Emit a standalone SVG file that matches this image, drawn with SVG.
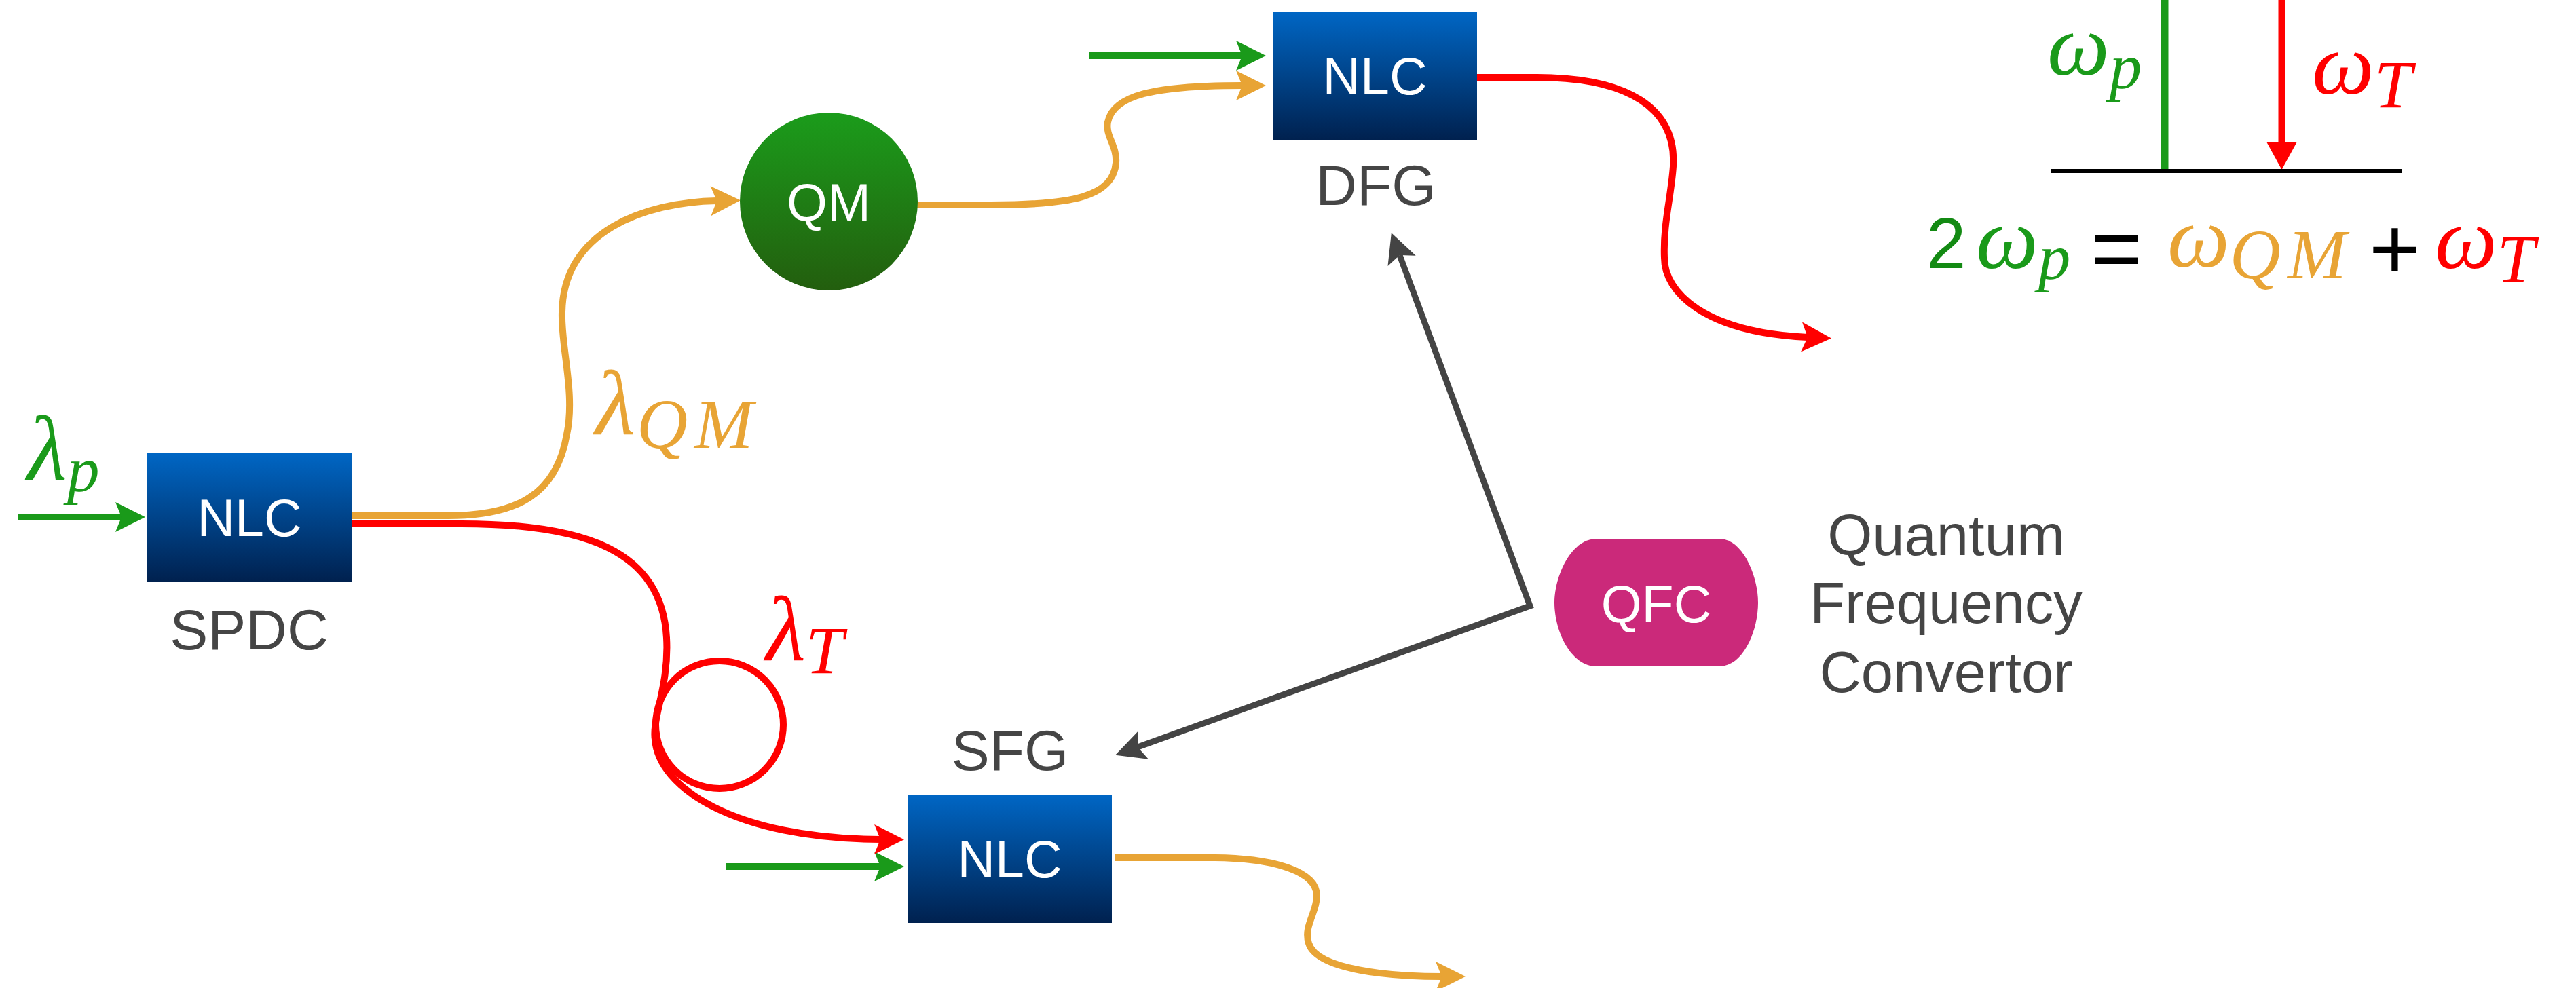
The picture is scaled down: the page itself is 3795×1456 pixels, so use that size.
<svg xmlns="http://www.w3.org/2000/svg" width="3795" height="1456" viewBox="0 0 3795 1456">
<style>
.lbl{font-family:"Liberation Sans",Arial,sans-serif;fill:#454545;font-size:84px;text-anchor:middle}
.inner{font-family:"Liberation Sans",Arial,sans-serif;fill:#ffffff;font-size:77px;text-anchor:middle}
.math{font-family:"Liberation Serif","DejaVu Serif",serif;font-style:italic}
.sans{font-family:"Liberation Sans",Arial,sans-serif;font-style:normal}
.g{fill:#1a9a1a}.o{fill:#e8a435}.r{fill:#ff0000}.k{fill:#000000}
.wide{letter-spacing:10px}
.wire{fill:none;stroke-width:10}
.sg{stroke:#1a9a1a}.so{stroke:#e8a435}.sr{stroke:#ff0000}.sk{stroke:#444444}
</style>
<defs>
<linearGradient id="nlcGrad" x1="0" y1="0" x2="0" y2="1">
<stop offset="0" stop-color="#0066c4"/>
<stop offset="1" stop-color="#00214f"/>
</linearGradient>
<linearGradient id="qmGrad" x1="0" y1="0" x2="0" y2="1">
<stop offset="0" stop-color="#1b9c1b"/>
<stop offset="1" stop-color="#235e0e"/>
</linearGradient>
<marker id="ahG" markerUnits="userSpaceOnUse" orient="auto" viewBox="-15 -30 60 60" markerWidth="60" markerHeight="60" refX="0" refY="0" overflow="visible"><path d="M-9,-22 L35,0 L-9,22 L0,0 Z" fill="#1a9a1a"/></marker>
<marker id="ahO" markerUnits="userSpaceOnUse" orient="auto" viewBox="-15 -30 60 60" markerWidth="60" markerHeight="60" refX="0" refY="0" overflow="visible"><path d="M-9,-22 L35,0 L-9,22 L0,0 Z" fill="#e8a435"/></marker>
<marker id="ahR" markerUnits="userSpaceOnUse" orient="auto" viewBox="-15 -30 60 60" markerWidth="60" markerHeight="60" refX="0" refY="0" overflow="visible"><path d="M-9,-22 L35,0 L-9,22 L0,0 Z" fill="#ff0000"/></marker>
<marker id="ahK" markerUnits="userSpaceOnUse" orient="auto-start-reverse" viewBox="-15 -30 60 60" markerWidth="60" markerHeight="60" refX="0" refY="0" overflow="visible"><path d="M-9,-22 L35,0 L-9,22 L0,0 Z" fill="#444444"/></marker>
</defs>
<rect width="3795" height="1456" fill="#ffffff"/>

<g id="connectors">
<path class="wire sg" d="M26,762 H179" marker-end="url(#ahG)"/>
<path class="wire sg" d="M1604,82 H1830" marker-end="url(#ahG)"/>
<path class="wire sg" d="M1069,1277 H1297" marker-end="url(#ahG)"/>
<path class="wire so" d="M518,760 H660 C760,760 820,730 835,640 C848,580 826,510 828,460 C830,340 950,298 1056,296" marker-end="url(#ahO)"/>
<path class="wire so" d="M1349,302 H1460 C1580,302 1640,290 1644,240 C1646,215 1628,200 1632,180 C1640,140 1700,126 1830,126" marker-end="url(#ahO)"/>
<path class="wire so" d="M1642,1264 H1790 C1880,1265 1940,1285 1940,1320 C1940,1345 1920,1365 1928,1390 C1940,1430 2050,1439 2124,1439" marker-end="url(#ahO)"/>
<path class="wire sr" d="M518,772 H680 C860,772 975,810 982,940 C986,1010 960,1060 965,1090 C970,1160 1080,1236 1297,1237" marker-end="url(#ahR)"/>
<circle class="wire sr" cx="1060" cy="1068" r="94"/>
<path class="wire sr" d="M2176,114 H2260 C2400,113 2470,160 2465,245 C2462,290 2450,330 2452,380 C2452,430 2510,490 2663,497" marker-end="url(#ahR)"/>
<path class="sk" fill="none" stroke-width="9" d="M2062,376 L2254,893 L1676,1101" marker-start="url(#ahK)" marker-end="url(#ahK)"/>
</g>

<g id="node-spdc">
<rect x="217" y="668" width="301" height="189" fill="url(#nlcGrad)"/>
<text class="inner" x="367.5" y="790">NLC</text>
<text class="lbl" x="367" y="957">SPDC</text>
</g>

<g id="node-qm">
<circle cx="1221" cy="297" r="131" fill="url(#qmGrad)"/>
<text class="inner" x="1221" y="325">QM</text>
</g>

<g id="node-dfg">
<rect x="1875" y="18" width="301" height="188" fill="url(#nlcGrad)"/>
<text class="inner" x="2025.5" y="139">NLC</text>
<text class="lbl" x="2027" y="302">DFG</text>
</g>

<g id="node-sfg">
<rect x="1337" y="1172" width="301" height="188" fill="url(#nlcGrad)"/>
<text class="inner" x="1487.5" y="1293">NLC</text>
<text class="lbl" x="1488" y="1135">SFG</text>
</g>

<g id="node-qfc">
<path d="M2352,794 H2533 C2568,794 2590,850 2590,888 C2590,930 2568,982 2533,982 H2352 C2314,982 2290,930 2290,888 C2290,850 2314,794 2352,794 Z" fill="#cb297a"/>
<text class="inner" x="2440" y="917">QFC</text>
<text class="lbl" x="2867" y="818" style="font-size:85px">Quantum</text>
<text class="lbl" x="2867" y="918" style="font-size:85px">Frequency</text>
<text class="lbl" x="2867" y="1020" style="font-size:85px">Convertor</text>
</g>

<g id="labels">
<text class="math g" x="40" y="707"><tspan font-size="136">λ</tspan><tspan dy="17" font-size="95">p</tspan></text>
<text class="math o" x="877" y="640"><tspan font-size="136">λ</tspan><tspan class="wide" dx="2" dy="20" font-size="104">QM</tspan></text>
<text class="math r" x="1128" y="973"><tspan font-size="136">λ</tspan><tspan dy="19" font-size="100">T</tspan></text>
</g>

<g id="energy-diagram">
<line x1="3189" y1="0" x2="3189" y2="252" stroke="#1a9a1a" stroke-width="11"/>
<line x1="3361.5" y1="0" x2="3361.5" y2="215" stroke="#ff0000" stroke-width="10"/>
<polygon points="3339,209 3384,209 3361.5,250" fill="#ff0000"/>
<line x1="3022" y1="252" x2="3539" y2="252" stroke="#000000" stroke-width="6"/>
<text class="math g" x="3016" y="110"><tspan font-size="130">ω</tspan><tspan dy="20" font-size="95">p</tspan></text>
<text class="math r" x="3406" y="138"><tspan font-size="130">ω</tspan><tspan dy="20" font-size="100">T</tspan></text>
</g>

<g id="equation">
<text class="math"><tspan class="sans" x="2838" y="395" font-size="105" fill="#138a13">2</tspan><tspan class="g" x="2911" y="395" font-size="130">ω</tspan><tspan class="g" dy="16" font-size="95">p</tspan><tspan class="sans k" x="3080" y="411" font-size="130">=</tspan><tspan class="o" x="3193" y="393" font-size="130">ω</tspan><tspan class="o wide" dy="17" font-size="104">QM</tspan><tspan class="sans k" x="3490" y="411" font-size="130">+</tspan><tspan class="r" x="3587" y="395" font-size="130">ω</tspan><tspan class="r" dy="20" font-size="100">T</tspan></text>
</g>
</svg>
